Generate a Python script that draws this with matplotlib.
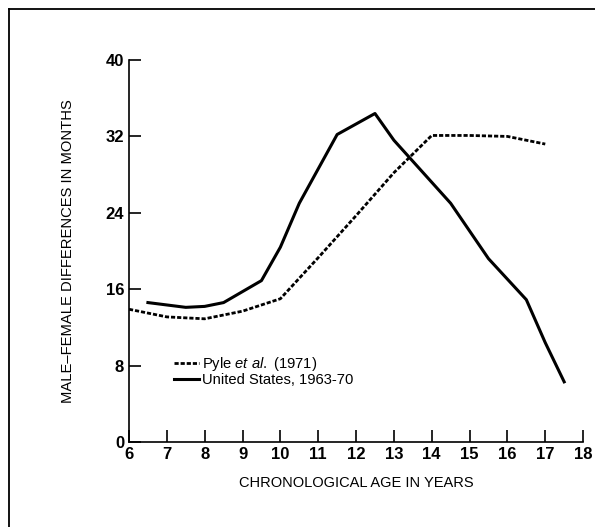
import matplotlib
matplotlib.use("Agg")
import matplotlib.pyplot as plt
from matplotlib.lines import Line2D

plt.rcParams['font.family'] = 'Liberation Sans'
plt.rcParams['mathtext.fontset'] = 'custom'
plt.rcParams['mathtext.it'] = 'Liberation Sans:italic'
plt.rcParams['mathtext.rm'] = 'Liberation Sans'

# Pyle et al. (1971)
pyle_age = [6, 7, 8, 9, 10, 11, 12, 13, 14, 15, 16, 17]
pyle_diff = [13.9, 13.1, 12.9, 13.7, 15.0, 19.3, 23.7, 28.2, 32.1, 32.1, 32.0, 31.2]

# United States, 1963-70
us_age = [6.5, 7.5, 8, 8.5, 9.5, 10, 10.5, 11.5, 12.5, 13, 14.5, 15.5, 16.5, 17, 17.5]
us_diff = [14.6, 14.1, 14.2, 14.6, 16.9, 20.4, 25.0, 32.2, 34.4, 31.6, 25.0, 19.2, 14.9, 10.4, 6.3]

x_ticks = list(range(6, 19))
y_ticks = [0, 8, 16, 24, 32, 40]

fig = plt.figure(figsize=(5.95, 5.27), dpi=100)
ax = fig.add_axes([0.2168, 0.1613, 0.7632, 0.7248])

ax.plot(pyle_age, pyle_diff, color='k', lw=2.0, dashes=(1.5, 0.7),
        label='Pyle $\\mathit{et\\ al.}$ (1971)')
ax.plot(us_age, us_diff, color='k', lw=2.2, label='United States, 1963-70')

ax.set_xlim(6, 18)
ax.set_ylim(0, 40)
ax.set_xticks(x_ticks)
ax.set_yticks(y_ticks)
for s in ['top', 'right']:
    ax.spines[s].set_visible(False)
for s in ['left', 'bottom']:
    ax.spines[s].set_linewidth(1.2)
ax.tick_params(direction='in', length=8.5, width=1.2, pad=3.5, labelsize=12)
for lab in ax.get_xticklabels() + ax.get_yticklabels():
    lab.set_fontweight('bold')

ax.set_ylabel('MALE\u2013FEMALE DIFFERENCES IN MONTHS', fontsize=10.6)
ax.yaxis.set_label_coords(-0.119, 0.5)
ax.set_xlabel('CHRONOLOGICAL AGE IN YEARS', fontsize=10.5)
ax.xaxis.set_label_coords(0.5, -0.088)

ax.legend(loc='upper left', bbox_to_anchor=(0.1, 0.228), frameon=False,
          fontsize=10.6, handlelength=1.7, handletextpad=0.15, labelspacing=0.02,
          borderpad=0, borderaxespad=0)

# page frame (scanned crop: left and top edges)
fig.add_artist(Line2D([9 / 595, 9 / 595], [0, 1 - 9 / 527], color='k', lw=1.3))
fig.add_artist(Line2D([9 / 595, 1], [1 - 9 / 527, 1 - 9 / 527], color='k', lw=1.3))

fig.savefig('out.png', dpi=100)
